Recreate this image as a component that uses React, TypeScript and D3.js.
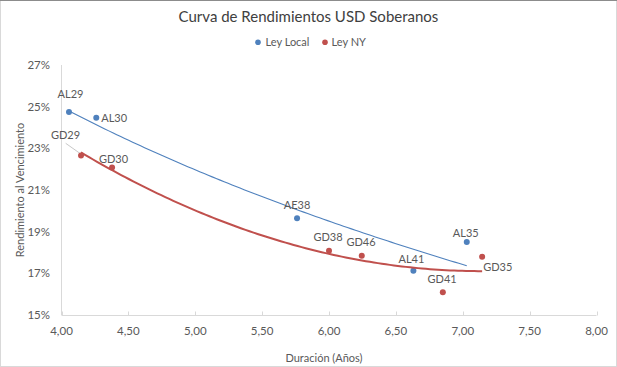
import React from "react";
import * as d3 from "d3";

const localNames = ["AL29", "AL30", "AE38", "AL41", "AL35"];
const localDur = [4.056, 4.26, 5.761, 6.631, 7.03];
const localYield = [24.74, 24.47, 19.65, 17.13, 18.51];

const nyNames = ["GD29", "GD30", "GD38", "GD46", "GD41", "GD35"];
const nyDur = [4.146, 4.378, 6.0, 6.245, 6.851, 7.145];
const nyYield = [22.66, 22.08, 18.09, 17.85, 16.09, 17.8];

const xTicks = [4, 4.5, 5, 5.5, 6, 6.5, 7, 7.5, 8];
const yTicks = [15, 17, 19, 21, 23, 25, 27];

// label placement: [dx, dy(center), anchor]
const labelPos: Record<string, [number, number, string]> = {
  AL29: [1.5, -18, "middle"],
  AL30: [5, 0, "start"],
  AE38: [0, -13, "middle"],
  AL41: [-2, -11.5, "middle"],
  AL35: [-1, -9, "middle"],
  GD29: [-15.5, -20.5, "middle"],
  GD30: [1.5, -8.5, "middle"],
  GD38: [-1, -13.4, "middle"],
  GD46: [-0.7, -13.4, "middle"],
  GD41: [-0.7, -13.3, "middle"],
  GD35: [1, 10.5, "start"],
};

const W = 617;
const H = 367;
const BLUE = "#4F81BD";
const RED = "#C0504D";
const TXT = "#595959";
const FONT = "Lato, 'Open Sans', sans-serif";

function polyFit2(xs: number[], ys: number[]) {
  let s0 = 0, s1 = 0, s2 = 0, s3 = 0, s4 = 0, t0 = 0, t1 = 0, t2 = 0;
  xs.forEach((x, i) => {
    const y = ys[i];
    s0 += 1; s1 += x; s2 += x * x; s3 += x ** 3; s4 += x ** 4;
    t0 += y; t1 += x * y; t2 += x * x * y;
  });
  const M = [
    [s0, s1, s2, t0],
    [s1, s2, s3, t1],
    [s2, s3, s4, t2],
  ];
  for (let i = 0; i < 3; i++) {
    let p = i;
    for (let r = i + 1; r < 3; r++) if (Math.abs(M[r][i]) > Math.abs(M[p][i])) p = r;
    [M[i], M[p]] = [M[p], M[i]];
    for (let r = 0; r < 3; r++) {
      if (r === i) continue;
      const f = M[r][i] / M[i][i];
      for (let c = i; c < 4; c++) M[r][c] -= f * M[i][c];
    }
  }
  const a = M[0][3] / M[0][0], b = M[1][3] / M[1][1], c = M[2][3] / M[2][2];
  return (x: number) => a + b * x + c * x * x;
}

function logFit(xs: number[], ys: number[]) {
  const lx = xs.map(Math.log);
  const mx = d3.mean(lx) as number;
  const my = d3.mean(ys) as number;
  let sxy = 0, sxx = 0;
  lx.forEach((v, i) => {
    sxy += (v - mx) * (ys[i] - my);
    sxx += (v - mx) ** 2;
  });
  const b = sxy / sxx;
  const a = my - b * mx;
  return (x: number) => a + b * Math.log(x);
}

export default function App() {
  const x = d3.scaleLinear().domain([4, 8]).range([61.5, 596.5]);
  const y = d3.scaleLinear().domain([15, 27]).range([315, 65]);

  const trend = (xs: number[], ys: number[], kind: string) => {
    const f = kind === "log" ? logFit(xs, ys) : polyFit2(xs, ys);
    const [lo, hi] = d3.extent(xs) as [number, number];
    const pts = d3.range(0, 101).map((i) => {
      const xv = lo + ((hi - lo) * i) / 100;
      return [x(xv), y(f(xv))] as [number, number];
    });
    return d3.line()(pts) || "";
  };

  const series = [
    { names: localNames, xs: localDur, ys: localYield, color: BLUE, width: 1.1, kind: "log" },
    { names: nyNames, xs: nyDur, ys: nyYield, color: RED, width: 2, kind: "poly" },
  ];

  const gd29 = [x(nyDur[0]), y(nyYield[0])];

  return (
    <svg
      width={W}
      height={H}
      style={{ position: "absolute", left: 0, top: 0, background: "#fff" }}
      fontFamily={FONT}
    >
      <rect x={0.5} y={0.5} width={W - 1} height={H - 1} fill="#fff" stroke="#d9d9d9" />
      <line x1={0} x2={W} y1={0.5} y2={0.5} stroke="#8c8c8c" />
      <text x={308.5} y={22} textAnchor="middle" fontSize={15} fill="#404040">
        Curva de Rendimientos USD Soberanos
      </text>
      {/* legend */}
      <circle cx={258} cy={42.3} r={2.8} fill={BLUE} />
      <text x={265.5} y={46.3} fontSize={11} fill={TXT}>Ley Local</text>
      <circle cx={325} cy={42.3} r={2.8} fill={RED} />
      <text x={331.5} y={46.3} fontSize={11} fill={TXT}>Ley NY</text>

      {/* axes */}
      <line x1={61.5} x2={61.5} y1={65} y2={315} stroke="#d9d9d9" />
      <line x1={61.5} x2={596.5} y1={315.5} y2={315.5} stroke="#d9d9d9" />
      {xTicks.map((t) => (
        <g key={t}>
          <line x1={Math.round(x(t)) + 0.5} x2={Math.round(x(t)) + 0.5} y1={311.5} y2={315.5} stroke="#d9d9d9" />
          <text x={x(t)} y={335} textAnchor="middle" fontSize={11.5} fill={TXT}>
            {d3.format(".2f")(t).replace(".", ",")}
          </text>
        </g>
      ))}
      {yTicks.map((t) => (
        <text key={t} x={50} y={y(t) + 4} textAnchor="end" fontSize={11.5} fill={TXT}>
          {t}%
        </text>
      ))}
      <text x={324} y={362} textAnchor="middle" fontSize={11} fill={TXT}>
        Duración (Años)
      </text>
      <text
        transform={`translate(24,190) rotate(-90)`}
        textAnchor="middle"
        fontSize={11}
        fill={TXT}
      >
        Rendimiento al Vencimiento
      </text>

      {/* leader line for GD29 */}
      <line x1={65.7} y1={143.3} x2={gd29[0] - 1} y2={gd29[1] - 2} stroke="#c8c8c8" strokeWidth={1} />

      {series.map((s, si) => (
        <g key={si}>
          <path d={trend(s.xs, s.ys, s.kind)} fill="none" stroke={s.color} strokeWidth={s.width} />
          {s.xs.map((xv, i) => (
            <circle key={i} cx={x(xv)} cy={y(s.ys[i])} r={3} fill={s.color} />
          ))}
          {s.names.map((n, i) => {
            const [dx, dy, anchor] = labelPos[n];
            return (
              <text
                key={n}
                x={x(s.xs[i]) + dx}
                y={y(s.ys[i]) + dy + 4}
                textAnchor={anchor as any}
                fontSize={11}
                fill={TXT}
              >
                {n}
              </text>
            );
          })}
        </g>
      ))}
    </svg>
  );
}
